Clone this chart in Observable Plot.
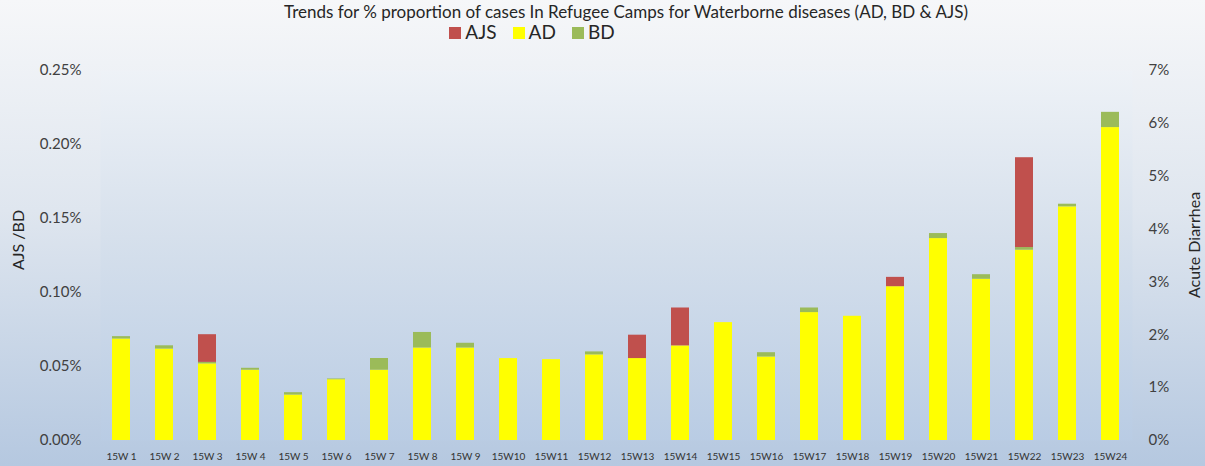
<!DOCTYPE html>
<html>
<head>
<meta charset="utf-8">
<script src="https://cdn.jsdelivr.net/npm/d3@7"></script>
<script src="https://cdn.jsdelivr.net/npm/@observablehq/plot@0.6"></script>
<style>
  html, body { margin: 0; padding: 0; }
  #wrap {
    position: relative; width: 1205px; height: 466px; overflow: hidden;
    background: linear-gradient(to bottom, #f6f7f9 0%, #dfe6ef 45%, #b5c8e0 100%);
    font-family: Lato, "Open Sans", sans-serif; color: #262626;
  }
  #title { position: absolute; left: 0; width: 1252px; top: 3px; text-align: center; font-size: 17px; line-height: 18px; }
  #legend { position: absolute; left: 0; width: 1048px; top: 22px; text-align: center; font-size: 19px; line-height: 19px; }
  #legend span.sw { display: inline-block; width: 12px; height: 12px; margin: 0 4px 0 16px; }
  #ylab { position: absolute; left: 18px; top: 240px; transform: translate(-50%, -50%) rotate(-90deg); font-size: 16px; line-height: 16px; white-space: nowrap; }
  #ylab2 { position: absolute; left: 1194px; top: 245px; transform: translate(-50%, -50%) rotate(-90deg); font-size: 16px; line-height: 16px; white-space: nowrap; }
  #chart { position: absolute; left: 0; top: 0; }
</style>
</head>
<body>
<div id="wrap">
  <div id="chart"></div>
  <div id="title">Trends for % proportion of cases In Refugee Camps for Waterborne diseases (AD, BD &amp; AJS)</div>
  <div id="legend"></div>
  <div id="ylab">AJS /BD</div>
  <div id="ylab2">Acute Diarrhea</div>
</div>
<script>
const weeks = ["15W 1","15W 2","15W 3","15W 4","15W 5","15W 6","15W 7","15W 8","15W 9","15W10","15W11","15W12",
               "15W13","15W14","15W15","15W16","15W17","15W18","15W19","15W20","15W21","15W22","15W23","15W24"];
// Acute Diarrhea, % (right axis)
const AD  = [1.92,1.73,1.45,1.33,0.86,1.15,1.33,1.75,1.75,1.55,1.53,1.62,1.55,1.79,2.23,1.58,2.42,2.35,2.91,3.82,3.05,3.60,4.42,5.92];
// Bloody Diarrhea, % (left axis)
const BD  = [0.0016,0.0022,0.001,0.0013,0.0016,0.0005,0.0079,0.0105,0.0032,0,0,0.002,0,0,0,0.0029,0.0031,0,0,0.0034,0.0031,0.0018,0.0018,0.0103];
// Acute Jaundice Syndrome, % (left axis)
const AJS = [0,0,0.0187,0,0,0,0,0,0,0,0,0,0.0158,0.0256,0,0,0,0,0.0063,0,0,0.0607,0,0];

const leftTicks = [0, 0.05, 0.10, 0.15, 0.20, 0.25];
const rightTicks = [0,1,2,3,4,5,6,7];
const leftMax = 0.25, rightMax = 7;
const series = ["AJS","AD","BD"];
const colors = {AJS: "#c0504d", AD: "#ffff00", BD: "#9bbb59"};

const toLeft = v => v * leftMax / rightMax;
const rows = [];
weeks.forEach((w, i) => {
  rows.push({week: w, series: "AD", value: toLeft(AD[i])});
  rows.push({week: w, series: "BD", value: BD[i]});
  rows.push({week: w, series: "AJS", value: AJS[i]});
});

const leg = document.getElementById("legend");
leg.innerHTML = series.map(s => `<span class="sw" style="background:${colors[s]}"></span>${s}`).join("");

const W = 1205, H = 466;
const chart = Plot.plot({
  width: W, height: H,
  marginLeft: 100, marginRight: 73, marginTop: 70, marginBottom: 26,
  style: {background: "transparent", fontFamily: "Lato, 'Open Sans', sans-serif", color: "#404040"},
  x: {domain: weeks, paddingInner: 0.58, paddingOuter: 0.29, axis: null},
  y: {domain: [0, leftMax], axis: null},
  marks: [
    Plot.frame({fill: "url(#plotgrad)", stroke: null}),
    Plot.barY(rows, {x: "week", y: "value", fill: d => colors[d.series], order: ["AD","BD","AJS"], z: "series"}),
    Plot.axisX({tickSize: 0, tickPadding: 12, fontSize: 10, label: null, fill: "#333"}),
    Plot.axisY({anchor: "left", ticks: leftTicks, tickFormat: d => d.toFixed(2) + "%", tickSize: 0, tickPadding: 19, fontSize: 15, label: null, fill: "#404040"}),
    Plot.axisY({anchor: "right", ticks: rightTicks.map(toLeft), tickFormat: d => Math.round(d * rightMax / leftMax) + "%", tickSize: 0, tickPadding: 16, fontSize: 15, label: null, fill: "#404040"})
  ]
});
const defs = document.createElementNS("http://www.w3.org/2000/svg", "defs");
defs.innerHTML = `<linearGradient id="plotgrad" x1="0" y1="0" x2="0" y2="1">
  <stop offset="0%" stop-color="#eef2f7"/><stop offset="45%" stop-color="#d6e0ec"/><stop offset="100%" stop-color="#b9cce4"/></linearGradient>`;
chart.insertBefore(defs, chart.firstChild);
document.getElementById("chart").appendChild(chart);
</script>
</body>
</html>
